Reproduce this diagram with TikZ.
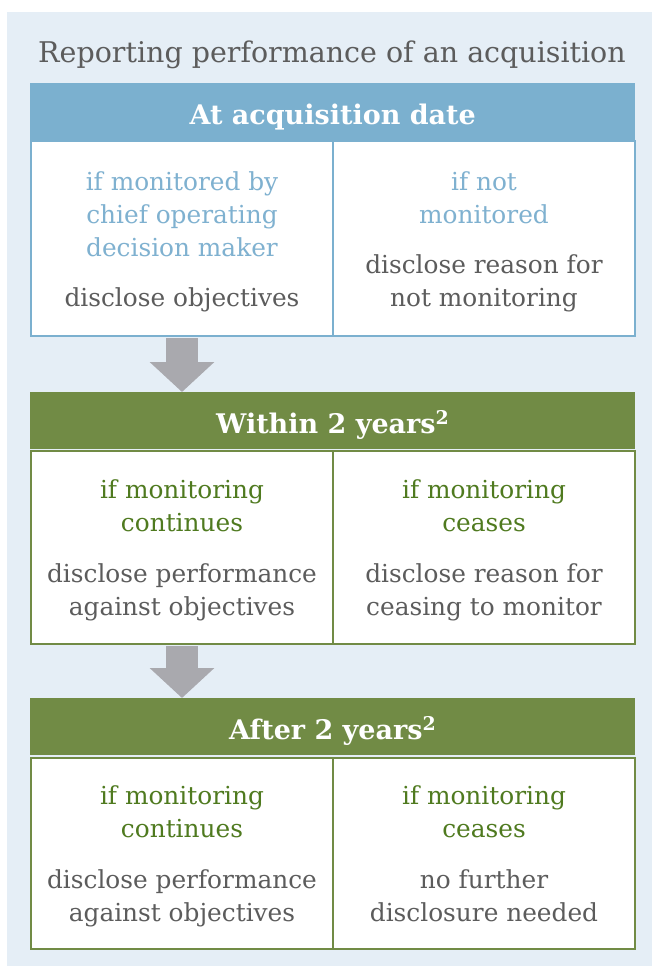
\documentclass[tikz,border=0pt]{standalone}
\usepackage{fontspec}
\setmainfont{DejaVu Serif}
\usetikzlibrary{arrows.meta,positioning}
\definecolor{bgblue}{HTML}{E5EEF6}
\definecolor{hdrblue}{HTML}{7BB0CF}
\definecolor{txtblue}{HTML}{7FB1D0}
\definecolor{hdrgreen}{HTML}{718B45}
\definecolor{txtgreen}{HTML}{4F7A1F}
\definecolor{txtgray}{HTML}{5C5C5C}
\definecolor{arrowgray}{HTML}{A9A9AE}

\begin{document}
\begin{tikzpicture}[x=1pt,y=-1pt,
  hdr/.style={anchor=north west, minimum width=605pt, minimum height=57pt, inner sep=0pt, text height=30pt, text depth=5pt, text=white, font=\bfseries\fontsize{27}{30}\selectfont},
  cell/.style={anchor=north west, draw, line width=2pt, fill=white, minimum width=302pt, inner sep=0pt},
  lead/.style={anchor=north, inner sep=0pt, align=center, font=\fontsize{24.8}{33}\selectfont},
  rule/.style={anchor=south, inner sep=0pt, text depth=8pt, align=center, text=txtgray, font=\fontsize{24.8}{33}\selectfont},
  down/.style={arrowgray, line width=32pt, shorten <=1pt, -{Triangle[width=63pt,length=30pt]}}]
\useasboundingbox (0,0) rectangle (652,966);
%fond
\fill[bgblue] (7,12) rectangle (652,966);
\node[anchor=base, text=txtgray, font=\fontsize{28.5}{32}\selectfont] (title) at (332,63) {Reporting performance of an acquisition};

%bloc 1
\node[hdr, fill=hdrblue] (hdrA) at (30,83) {At acquisition date};
\node[cell, draw=hdrblue, minimum height=195pt] (cellAl) at (30,140) {};
\node[cell, draw=hdrblue, minimum height=195pt] (cellAr) at (332,140) {};
\node[lead, text=txtblue] (leadAl) at ([yshift=-31pt]cellAl.north) {if monitored by\\chief operating\\decision maker};
\node[rule] (ruleAl) at ([yshift=22pt]cellAl.south) {disclose objectives};
\node[lead, text=txtblue] (leadAr) at ([yshift=-31pt]cellAr.north) {if not\\monitored};
\node[rule] (ruleAr) at ([yshift=22pt]cellAr.south) {disclose reason for\\not monitoring};
%fin

%bloc 2
\node[hdr, fill=hdrgreen] (hdrB) at (30,392) {Within 2 years\textsuperscript{2}};
\node[cell, draw=hdrgreen, minimum height=193pt] (cellBl) at (30,450) {};
\node[cell, draw=hdrgreen, minimum height=193pt] (cellBr) at (332,450) {};
\node[lead, text=txtgreen] (leadBl) at ([yshift=-29pt]cellBl.north) {if monitoring\\continues};
\node[rule] (ruleBl) at ([yshift=21pt]cellBl.south) {disclose performance\\against objectives};
\node[lead, text=txtgreen] (leadBr) at ([yshift=-29pt]cellBr.north) {if monitoring\\ceases};
\node[rule] (ruleBr) at ([yshift=21pt]cellBr.south) {disclose reason for\\ceasing to monitor};
%fin

%bloc 3
\node[hdr, fill=hdrgreen] (hdrC) at (30,698) {After 2 years\textsuperscript{2}};
\node[cell, draw=hdrgreen, minimum height=191pt] (cellCl) at (30,757) {};
\node[cell, draw=hdrgreen, minimum height=191pt] (cellCr) at (332,757) {};
\node[lead, text=txtgreen] (leadCl) at ([yshift=-28pt]cellCl.north) {if monitoring\\continues};
\node[rule] (ruleCl) at ([yshift=20pt]cellCl.south) {disclose performance\\against objectives};
\node[lead, text=txtgreen] (leadCr) at ([yshift=-28pt]cellCr.north) {if monitoring\\ceases};
\node[rule] (ruleCr) at ([yshift=20pt]cellCr.south) {no further\\disclosure needed};
%fin

%fleches
\draw[down] (cellAl.south) -- (hdrB.north -| cellAl.south);
\draw[down] (cellBl.south) -- (hdrC.north -| cellBl.south);
\end{tikzpicture}
\end{document}
